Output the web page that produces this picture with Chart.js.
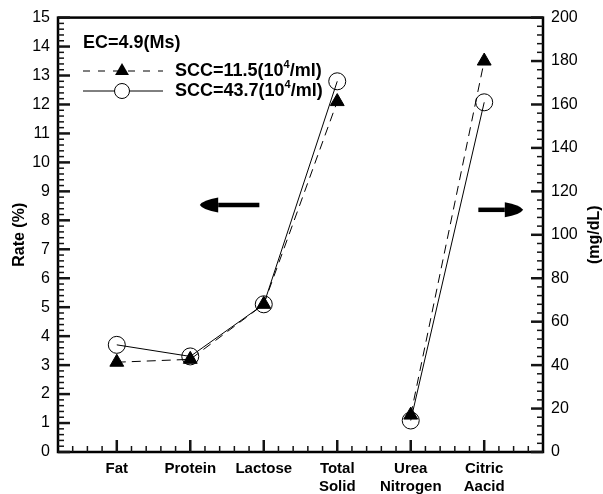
<!DOCTYPE html>
<html>
<head>
<meta charset="utf-8">
<script src="https://cdn.jsdelivr.net/npm/chart.js@4"></script>
<style>
  body { margin: 0; background: #fff; }
  canvas { display: block; }
</style>
</head>
<body>
<canvas id="chart" width="603" height="494"></canvas>
<script>
// categories along the bottom axis
const categories = ["Fat", "Protein", "Lactose", ["Total", "Solid"], ["Urea", "Nitrogen"], ["Citric", "Aacid"]];

// left axis (Rate %) values: Fat, Protein, Lactose, Total Solid
const rateScc115 = [3.1, 3.2, 5.1, 12.1];
const rateScc437 = [3.7, 3.3, 5.1, 12.8];

// right axis (mg/dL) values: Urea Nitrogen, Citric Aacid
const mgScc115 = [17, 180];
const mgScc437 = [14.5, 161];

const seriesNames = ["SCC=11.5(10", "SCC=43.7(10"];
const legendTitle = "EC=4.9(Ms)";

const FONT = "'Liberation Sans', Arial, sans-serif";
const TICK_COLOR = "rgb(20,20,20)";

function toPoints(values, offset) {
    return values.map((v, i) => ({ x: i + offset, y: v }));
}

const nRate = rateScc115.length;

const dashedStyle = {
    borderColor: "#000", borderWidth: 1, borderDash: [9, 6],
    pointStyle: "triangle", pointRadius: 8, pointBackgroundColor: "#000",
    pointBorderColor: "#000", pointBorderWidth: 1, tension: 0, fill: false
};
const solidStyle = {
    borderColor: "#000", borderWidth: 1,
    pointStyle: "circle", pointRadius: 8.5, pointBackgroundColor: "rgba(0,0,0,0)",
    pointBorderColor: "#000", pointBorderWidth: 1, tension: 0, fill: false
};

function isNear(v, step) {
    const r = Math.round(v / step) * step;
    return Math.abs(v - r) < 1e-6;
}

// tick values from a scale's min/max and a minor step
function tickValues(scale, step) {
    const out = [];
    const n = Math.round((scale.max - scale.min) / step);
    for (let k = 0; k <= n; k++) out.push(scale.min + k * step);
    return out;
}

// draws frame, inward ticks, legend, arrows and right title
const decorPlugin = {
    id: "decor",
    afterDraw(chart) {
        const ctx = chart.ctx;
        const area = chart.chartArea;
        const xs = chart.scales.x, yl = chart.scales.y, yr = chart.scales.y2;
        ctx.save();
        ctx.setLineDash([]);
        ctx.strokeStyle = "#000";
        ctx.fillStyle = "#000";

        // frame
        ctx.lineWidth = 2.5;
        ctx.strokeRect(area.left, area.top, area.right - area.left, area.bottom - area.top);

        // inward tick marks
        const marks = [];
        tickValues(xs, 0.2).forEach(v => {
            const px = xs.getPixelForValue(v);
            if (px <= area.left + 1 || px >= area.right - 1) return;
            const major = isNear(v, 1);
            marks.push([px, area.bottom, px, area.bottom - (major ? 12 : 6), major]);
        });
        tickValues(yl, 0.2).forEach(v => {
            const py = yl.getPixelForValue(v);
            const major = isNear(v, 1);
            marks.push([area.left, py, area.left + (major ? 12 : 6), py, major]);
        });
        tickValues(yr, 4).forEach(v => {
            const py = yr.getPixelForValue(v);
            const major = isNear(v, 20);
            marks.push([area.right, py, area.right - (major ? 12 : 6), py, major]);
        });
        ctx.strokeStyle = TICK_COLOR;
        marks.forEach(m => {
            ctx.lineWidth = m[4] ? 2.5 : 1.5;
            ctx.beginPath();
            ctx.moveTo(m[0], m[1]);
            ctx.lineTo(m[2], m[3]);
            ctx.stroke();
        });
        ctx.strokeStyle = "#000";

        // arrows
        function arrow(x1, x2, xb, py) {
            ctx.lineWidth = 4.5;
            ctx.beginPath();
            ctx.moveTo(x1, py);
            ctx.lineTo(xb, py);
            ctx.stroke();
            const dir = x2 > xb ? 1 : -1;
            ctx.beginPath();
            ctx.moveTo(xb, py - 7.5);
            ctx.quadraticCurveTo(x2 - dir * 3, py - 5, x2, py);
            ctx.quadraticCurveTo(x2 - dir * 3, py + 5, xb, py + 7.5);
            ctx.closePath();
            ctx.fill();
        }
        arrow(xs.getPixelForValue(1.94), xs.getPixelForValue(1.13), xs.getPixelForValue(1.38), yl.getPixelForValue(8.53));
        arrow(xs.getPixelForValue(4.92), xs.getPixelForValue(5.53), xs.getPixelForValue(5.28), yr.getPixelForValue(111.5));

        // legend
        ctx.textBaseline = "middle";
        ctx.textAlign = "left";
        ctx.font = "bold 18px " + FONT;
        ctx.fillText(legendTitle, 83, 43);

        const rows = [71, 91];
        ctx.lineWidth = 1;
        ctx.setLineDash([7, 8]);
        ctx.beginPath();
        ctx.moveTo(83, rows[0]);
        ctx.lineTo(163, rows[0]);
        ctx.stroke();
        ctx.setLineDash([]);
        const tr = 8, cx = 122;
        ctx.beginPath();
        ctx.moveTo(cx, rows[0] - tr);
        ctx.lineTo(cx + tr * Math.sqrt(3) / 2, rows[0] + tr / 2);
        ctx.lineTo(cx - tr * Math.sqrt(3) / 2, rows[0] + tr / 2);
        ctx.closePath();
        ctx.fill();

        ctx.beginPath();
        ctx.moveTo(83, rows[1]);
        ctx.lineTo(163, rows[1]);
        ctx.stroke();
        ctx.beginPath();
        ctx.arc(cx, rows[1], 7.5, 0, Math.PI * 2);
        ctx.fillStyle = "#fff";
        ctx.fill();
        ctx.stroke();
        ctx.fillStyle = "#000";

        seriesNames.forEach((name, i) => {
            let x = 175;
            ctx.font = "bold 18px " + FONT;
            ctx.fillText(name, x, rows[i]);
            x += ctx.measureText(name).width;
            ctx.font = "bold 11px " + FONT;
            ctx.fillText("4", x, rows[i] - 6);
            x += ctx.measureText("4").width;
            ctx.font = "bold 18px " + FONT;
            ctx.fillText("/ml)", x, rows[i]);
        });

        // right axis title, reading bottom to top
        ctx.translate(595, (area.top + area.bottom) / 2);
        ctx.rotate(-Math.PI / 2);
        ctx.textAlign = "center";
        ctx.font = "bold 16px " + FONT;
        ctx.fillText("(mg/dL)", 0, 0);
        ctx.restore();
    }
};

new Chart(document.getElementById("chart"), {
    type: "line",
    data: {
        datasets: [
            { ...dashedStyle, data: toPoints(rateScc115, 0), yAxisID: "y" },
            { ...solidStyle, data: toPoints(rateScc437, 0), yAxisID: "y" },
            { ...dashedStyle, data: toPoints(mgScc115, nRate), yAxisID: "y2" },
            { ...solidStyle, data: toPoints(mgScc437, nRate), yAxisID: "y2" }
        ]
    },
    options: {
        responsive: false,
        animation: false,
        layout: { padding: { top: 9, left: 0, right: 0, bottom: 0 } },
        plugins: { legend: { display: false }, tooltip: { enabled: false } },
        scales: {
            x: {
                type: "linear", min: -0.8, max: 5.8,
                grid: { display: false, drawTicks: false },
                border: { display: false },
                afterFit: s => { s.height = 42; },
                ticks: {
                    stepSize: 0.2, autoSkip: false, maxRotation: 0, padding: 8,
                    color: "#000", font: { family: FONT, size: 15, weight: "bold" },
                    callback: v => {
                        const r = Math.round(v);
                        if (Math.abs(v - r) < 1e-6 && r >= 0 && r < categories.length) return categories[r];
                        return "";
                    }
                }
            },
            y: {
                position: "left", min: 0, max: 15,
                grid: { display: false, drawTicks: false },
                border: { display: false },
                afterFit: s => { s.width = 58; },
                title: {
                    display: true, text: "Rate (%)", color: "#000",
                    font: { family: FONT, size: 16, weight: "bold" },
                    padding: { top: 10, bottom: 0 }
                },
                ticks: {
                    stepSize: 0.2, autoSkip: false, padding: 8, color: "#000",
                    font: { family: FONT, size: 16 },
                    callback: v => isNear(v, 1) ? Math.round(v) : ""
                }
            },
            y2: {
                position: "right", min: 0, max: 200,
                grid: { display: false, drawTicks: false },
                border: { display: false },
                afterFit: s => { s.width = 60; },
                ticks: {
                    stepSize: 4, autoSkip: false, padding: 8, color: "#000",
                    font: { family: FONT, size: 16 },
                    callback: v => isNear(v, 20) ? Math.round(v) : ""
                }
            }
        }
    },
    plugins: [decorPlugin]
});
</script>
</body>
</html>
